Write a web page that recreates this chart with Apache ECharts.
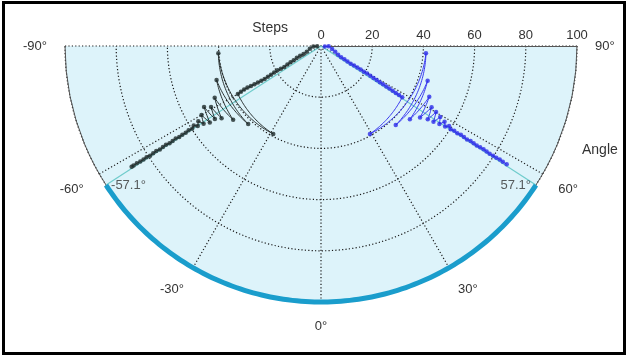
<!DOCTYPE html>
<html><head><meta charset="utf-8">
<script src="https://cdn.jsdelivr.net/npm/echarts@6/dist/echarts.min.js"></script>
<style>
html,body{margin:0;padding:0;background:#fff;}
#c{position:absolute;left:0;top:0;width:627px;height:358px;}
#frame{position:absolute;left:2px;top:1px;width:618px;height:348px;border:3px solid #000;pointer-events:none;}
</style></head><body>
<div id="c"></div><div id="frame"></div>
<script>
// ---- data ----
const stepTicks = [0, 20, 40, 60, 80, 100];
const angleTicks = [-90, -60, -30, 0, 30, 60, 90];

const blackSteps = [1.5,3,4.5,6,7.5,9,10.5,12,13.5,15,16.5,18,19.5,21,22.5,24,25.5,27,28.5,30,31.5,33,34.5,36,37.5,
  39.1,40.2,41.7,42.9,44.8,46.2,48,49.1,50.3,51.5,52.7,53.9,55,56.2,57.4,58.6,59.8,
  61.3,62.8,64.3,65.8,67.3,68.8,70.3,71.8,73.3,74.8,76.3,77.8,79.3,80.8,82.3,83.8,85.3,86.8,87.7];
const blackAngles = [-88,-87,-76,-68,-65.5,-65,-64,-62.5,-61.8,-61,-60.3,-60.5,-60.8,-60.6,-60.2,-59.9,-59.7,-59.7,-59.9,-60.1,-60.3,-60.5,-60.5,-60.3,-60,
  -28.5,-86,-43,-72,-50,-64,-54,-61,-55.5,-62.5,-55.5,-60,-56.5,-58.5,-57,-58,-57.3,
  -57.5,-57.3,-57.4,-57.3,-57.5,-57.4,-57.3,-57.5,-57.4,-57.3,-57.5,-57.4,-57.3,-57.5,-57.4,-57.4,-57.5,-57.5,-57.5];

const blueSteps = [1.5,3,4.5,6,7.5,9,10.5,12,13.5,15,16.5,18,19.5,21,22.5,24,25.5,27,28.5,30,31.5,33,34.5,36,37.5,
  39.3,41.1,42.5,43.8,45,46.7,47.7,49.4,50.6,51.8,53,54.2,55.4,56.6,57.8,59,60.2,
  61.7,63.2,64.7,66.2,67.7,69.2,70.7,72.2,73.7,75.2,76.7,78.2,79.7,81.2,82.7,84.2,86];
const blueAngles = [84,88,75,68,63,61,60.5,59.5,59.2,59.3,59.3,59.2,59.1,59.1,58.9,58.7,58.6,58.4,58.3,58.2,58.1,58,57.9,57.8,57.8,
  29.1,86,43.4,72,50.5,64.9,54.2,61,55.5,60.2,56,59.2,56.6,58.5,57,58,57.3,
  57.5,57.4,57.6,57.5,57.4,57.6,57.5,57.4,57.5,57.6,57.5,57.4,57.5,57.5,57.6,57.5,57.5];

const finalAngles = [-57.1, 57.1];
const finalLabels = ['-57.1°', '57.1°'];
const maxSteps = 100;

// ---- helpers (axis value runs east->west, so angle value = -angle) ----
const ax = a => -a;
function segments(steps, angles) {
  const out = [];
  for (let i = 0; i < steps.length - 1; i++) out.push([steps[i], ax(angles[i]), steps[i+1], ax(angles[i+1])]);
  return out;
}
function points(steps, angles) { return steps.map((s, i) => [s, ax(angles[i])]); }
function polarPath(api, r0, a0, r1, a1) {
  const n = Math.max(1, Math.ceil(Math.abs(a1 - a0)));
  const pts = [];
  for (let k = 0; k <= n; k++) {
    const t = k / n;
    pts.push(api.coord([r0 + (r1 - r0) * t, a0 + (a1 - a0) * t]));
  }
  return pts;
}
function segRenderer(color, width) {
  return function (params, api) {
    const pts = polarPath(api, api.value(0), api.value(1), api.value(2), api.value(3));
    return { type: 'polyline', shape: { points: pts }, style: { stroke: color, lineWidth: width, fill: null, lineCap: 'butt' } };
  };
}
// plot background: the half disc between the angle axis ends, out to the last step tick
function bgRenderer(params, api) {
  const pts = polarPath(api, api.value(0), api.value(1), api.value(0), api.value(2));
  pts.push(api.coord([0, 0]));
  return { type: 'polygon', shape: { points: pts }, style: { fill: '#ddf3fa', stroke: null } };
}
const FONT = 'Liberation Sans, Arial, sans-serif';
const TXT = '#333';
const GRID = { color: '#1a1a1a', width: 1.2, type: [1.2, 2.2] };

const chart = echarts.init(document.getElementById('c'), null, { renderer: 'canvas' });
const option = {
  animation: false,
  backgroundColor: '#fff',
  title: { text: 'Angle', left: 577, top: 138, textStyle: { fontSize: 14, fontWeight: 'normal', color: TXT, fontFamily: FONT } },
  polar: { center: [321, 46], radius: 256 },
  angleAxis: {
    type: 'value', min: angleTicks[0], max: angleTicks[angleTicks.length - 1], interval: 30,
    startAngle: 0, endAngle: -180, clockwise: true,
    axisLine: { show: true, lineStyle: { color: '#555', width: 1 } },
    axisTick: { show: false },
    axisLabel: { show: true, margin: 18, color: TXT, fontSize: 13, fontFamily: FONT,
      formatter: v => (-v) + '°' },
    splitLine: { show: true, lineStyle: GRID },
    splitArea: { show: false }
  },
  radiusAxis: {
    type: 'value', min: stepTicks[0], max: stepTicks[stepTicks.length - 1], interval: 20,
    name: 'Steps', nameLocation: 'start', nameGap: 33,
    nameTextStyle: { color: TXT, fontSize: 14, fontFamily: FONT, verticalAlign: 'bottom', padding: [0, 0, 11, 0] },
    axisLine: { show: true, lineStyle: { color: '#555', width: 1 } },
    axisTick: { show: false },
    axisLabel: { show: true, margin: 4, color: TXT, fontSize: 13, fontFamily: FONT },
    splitLine: { show: true, lineStyle: GRID },
    splitArea: { show: false }
  },
  series: [
    { type: 'custom', coordinateSystem: 'polar', z: -5, silent: true, encode: { radius: 0, angle: 1 },
      renderItem: bgRenderer,
      data: [[maxSteps, angleTicks[0], angleTicks[angleTicks.length - 1]]] },
    { type: 'custom', coordinateSystem: 'polar', z: 2, encode: { radius: 0, angle: 1 },
      renderItem: segRenderer('#6fcccc', 1.2),
      data: finalAngles.map(a => [0, ax(a), maxSteps, ax(a)]) },
    { type: 'custom', coordinateSystem: 'polar', z: 3, encode: { radius: 0, angle: 1 },
      renderItem: segRenderer('#1a9dcc', 5),
      data: [[maxSteps, ax(finalAngles[0]), maxSteps, ax(finalAngles[1])]] },
    { type: 'custom', coordinateSystem: 'polar', z: 4, encode: { radius: 0, angle: 1 },
      renderItem: segRenderer('#2b3333', 1),
      data: segments(blackSteps, blackAngles) },
    { type: 'scatter', coordinateSystem: 'polar', z: 5, symbol: 'circle', symbolSize: 4.5,
      itemStyle: { color: '#1e2b2b' }, data: points(blackSteps, blackAngles) },
    { type: 'custom', coordinateSystem: 'polar', z: 4, encode: { radius: 0, angle: 1 },
      renderItem: segRenderer('#3a3af0', 1),
      data: segments(blueSteps, blueAngles) },
    { type: 'scatter', coordinateSystem: 'polar', z: 5, symbol: 'circle', symbolSize: 4.5,
      itemStyle: { color: '#2d2de8' }, data: points(blueSteps, blueAngles) },
    { type: 'scatter', coordinateSystem: 'polar', z: 6, symbolSize: 0,
      data: finalAngles.map((a, i) => ({ value: [maxSteps, ax(a)],
        label: { show: true, position: i === 0 ? 'right' : 'left', distance: 5, formatter: finalLabels[i],
          color: TXT, fontSize: 13, fontFamily: FONT } })) }
  ]
};
chart.setOption(option);
</script>
</body></html>
